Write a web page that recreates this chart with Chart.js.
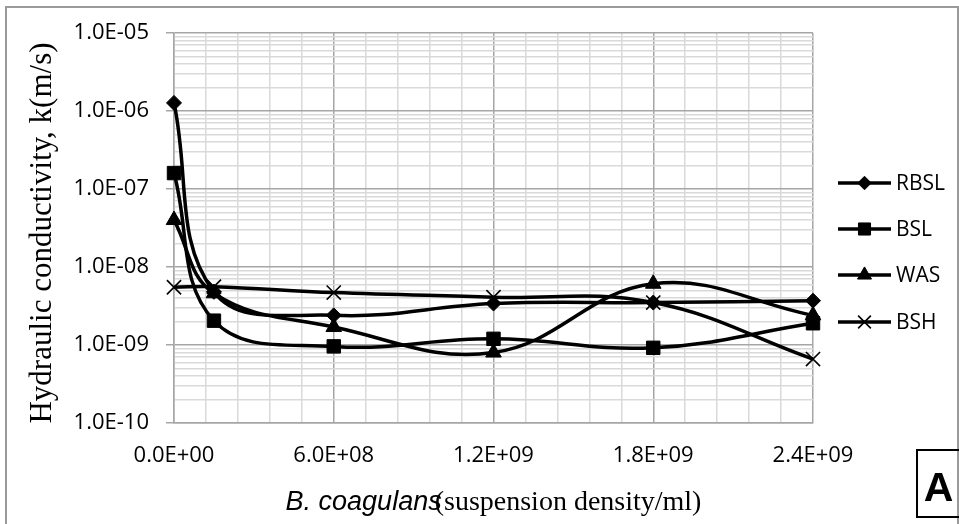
<!DOCTYPE html>
<html>
<head>
<meta charset="utf-8">
<script src="https://cdn.jsdelivr.net/npm/chart.js@4/dist/chart.umd.min.js"></script>
<style>
html,body{margin:0;padding:0;background:#fff;}
#wrap{width:959px;height:524px;position:relative;}
</style>
</head>
<body>
<div id="wrap"><canvas id="c" width="959" height="524"></canvas></div>
<script>
// ---- data ----
const seriesNames = ['RBSL', 'BSL', 'WAS', 'BSH'];
const xValues = [0, 1.5e8, 6e8, 1.2e9, 1.8e9, 2.4e9];
const rbslValues = [1.27e-6, 4.8e-9, 2.4e-9, 3.4e-9, 3.5e-9, 3.7e-9];
const bslValues  = [1.6e-7, 2.05e-9, 9.6e-10, 1.2e-9, 9.2e-10, 1.9e-9];
const wasValues  = [4.0e-8, 4.6e-9, 1.7e-9, 8.0e-10, 6.1e-9, 2.4e-9];
const bshValues  = [5.5e-9, 5.6e-9, 4.7e-9, 4.1e-9, 3.5e-9, 6.6e-10];
const xTickValues = [0, 6e8, 1.2e9, 1.8e9, 2.4e9];
const yTickValues = [1e-10, 1e-9, 1e-8, 1e-7, 1e-6, 1e-5];
const yTitle = 'Hydraulic conductivity, k(m/s)';
const xTitleItalic = 'B. coagulans';
const xTitleRest = '(suspension density/ml)';
const panelLabel = 'A';

function sci(v) {
  if (v === 0) return '0.0E+00';
  let e = Math.floor(Math.log10(v) + 1e-9);
  let m = v / Math.pow(10, e);
  return m.toFixed(1) + 'E' + (e < 0 ? '-' : '+') + String(Math.abs(e)).padStart(2, '0');
}
function pts(ys) { return xValues.map((x, i) => ({x: x, y: ys[i]})); }

const styles = [
  {pointStyle: 'rectRot', radius: 7.5, bw: 1},
  {pointStyle: 'rect', radius: 9.5, bw: 1},
  {pointStyle: 'triangle', radius: 9, bw: 1},
  {pointStyle: 'crossRot', radius: 10, bw: 1.6}
];
const allValues = [rbslValues, bslValues, wasValues, bshValues];

const datasets = allValues.map((vals, i) => ({
  label: seriesNames[i],
  data: pts(vals),
  borderColor: '#000',
  backgroundColor: '#000',
  borderWidth: 3.5,
  tension: 0.4,
  clip: false,
  pointStyle: styles[i].pointStyle,
  pointRadius: styles[i].radius,
  pointHoverRadius: styles[i].radius,
  pointBackgroundColor: '#000',
  pointBorderColor: '#000',
  pointBorderWidth: styles[i].bw,
  fill: false
}));

const MAJOR = '#a6a6a6', MINOR = '#d9d9d9';
const PLOT_L = 174, PLOT_R = 813, PLOT_T = 33, PLOT_B = 423;
const TICK_FONT = '"Open Sans", sans-serif';

const xMajor = new Set(xTickValues.map(v => Math.round(v / 1.2e8)));
function isDecade(v) {
  const l = Math.log10(v);
  return Math.abs(l - Math.round(l)) < 1e-6;
}

const decorPlugin = {
  id: 'decor',
  beforeDraw(chart) {
    const ctx = chart.ctx;
    ctx.save();
    ctx.fillStyle = '#fff';
    ctx.fillRect(0, 0, chart.width, chart.height);
    ctx.restore();
  },
  afterDraw(chart) {
    const ctx = chart.ctx;
    const area = chart.chartArea;
    ctx.save();
    // outer frame
    ctx.strokeStyle = '#9a9a9a';
    ctx.lineWidth = 2;
    ctx.strokeRect(6, 7, 952, 540);
    // y title
    ctx.fillStyle = '#000';
    ctx.font = '31px "Liberation Serif", "Times New Roman", serif';
    ctx.textAlign = 'center';
    ctx.textBaseline = 'alphabetic';
    ctx.translate(51, 233);
    ctx.rotate(-Math.PI / 2);
    ctx.fillText(yTitle, 0, 0);
    ctx.setTransform(1, 0, 0, 1, 0, 0);
    // x title (mixed fonts)
    const fItal = 'italic 27px "Liberation Sans", Arial, sans-serif';
    const fSerif = '28px "Liberation Serif", "Times New Roman", serif';
    ctx.font = fItal;
    const w1 = ctx.measureText(xTitleItalic).width;
    ctx.font = fSerif;
    const w2 = ctx.measureText(xTitleRest).width;
    const overlap = 7;
    const total = w1 + w2 - overlap;
    const cx = (area.left + area.right) / 2;
    const startX = cx - total / 2;
    ctx.textAlign = 'left';
    ctx.textBaseline = 'alphabetic';
    ctx.font = fItal;
    ctx.fillText(xTitleItalic, startX, 510);
    ctx.font = fSerif;
    ctx.fillText(xTitleRest, startX + w1 - overlap, 510);
    // legend
    const legY = [183, 229, 275, 322];
    for (let i = 0; i < seriesNames.length; i++) {
      const y = legY[i];
      ctx.strokeStyle = '#000';
      ctx.lineWidth = 3.5;
      ctx.beginPath();
      ctx.moveTo(838, y);
      ctx.lineTo(891, y);
      ctx.stroke();
      ctx.fillStyle = '#000';
      ctx.lineWidth = styles[i].bw;
      const r = styles[i].pointStyle === 'crossRot' ? 9 : styles[i].radius * 0.9;
      Chart.helpers.drawPoint(ctx, {pointStyle: styles[i].pointStyle, radius: r, rotation: 0, borderWidth: styles[i].bw}, 864.5, y);
      ctx.fillStyle = '#000';
      ctx.font = '21px ' + TICK_FONT;
      ctx.textAlign = 'left';
      ctx.textBaseline = 'middle';
      ctx.fillText(seriesNames[i], 896, y + 1);
    }
    // panel label box
    ctx.strokeStyle = '#000';
    ctx.lineWidth = 2;
    ctx.strokeRect(917, 450, 60, 67);
    ctx.fillStyle = '#000';
    ctx.font = 'bold 41px "Liberation Sans", Arial, sans-serif';
    ctx.textAlign = 'center';
    ctx.textBaseline = 'alphabetic';
    ctx.fillText(panelLabel, 938.5, 501);
    ctx.restore();
  }
};

new Chart(document.getElementById('c'), {
  type: 'line',
  data: {datasets: datasets},
  options: {
    responsive: false,
    animation: false,
    devicePixelRatio: 1,
    layout: {padding: {top: PLOT_T, right: 959 - PLOT_R, left: 0, bottom: 0}},
    plugins: {legend: {display: false}, tooltip: {enabled: false}},
    scales: {
      x: {
        type: 'linear',
        min: 0,
        max: 2.4e9,
        afterFit(s) { s.height = 524 - PLOT_B; },
        afterBuildTicks(s) {
          const t = [];
          for (let i = 0; i <= 20; i++) t.push({value: i * 1.2e8});
          s.ticks = t;
        },
        border: {display: true, color: MAJOR, width: 1.5},
        grid: {
          color: c => xMajor.has(c.index) ? MAJOR : MINOR,
          lineWidth: 1.5,
          drawTicks: false
        },
        ticks: {
          autoSkip: false,
          maxRotation: 0,
          padding: 20,
          color: '#000',
          font: {family: TICK_FONT, size: 22},
          callback: (v, i) => xMajor.has(i) ? sci(xTickValues[Math.round(i / 5)]) : ''
        }
      },
      y: {
        type: 'logarithmic',
        min: 1e-10,
        max: 1e-5,
        afterFit(s) { s.width = PLOT_L; },
        afterBuildTicks(s) {
          const t = [];
          for (let e = -10; e <= -5; e++) {
            for (let m = 1; m <= 9; m++) {
              if (e === -5 && m > 1) break;
              t.push({value: Number(m + 'e' + e)});
            }
          }
          s.ticks = t;
        },
        border: {display: true, color: MAJOR, width: 1.5},
        grid: {
          color: c => (c.tick && isDecade(c.tick.value)) ? MAJOR : MINOR,
          tickColor: c => (c.tick && isDecade(c.tick.value)) ? MAJOR : 'rgba(0,0,0,0)',
          lineWidth: 1.5,
          tickLength: 8
        },
        ticks: {
          autoSkip: false,
          padding: 17,
          color: '#000',
          font: {family: TICK_FONT, size: 22},
          callback: (v) => isDecade(v) ? sci(yTickValues[Math.round(Math.log10(v)) + 10]) : ''
        }
      }
    }
  },
  plugins: [decorPlugin]
});
</script>
</body>
</html>
